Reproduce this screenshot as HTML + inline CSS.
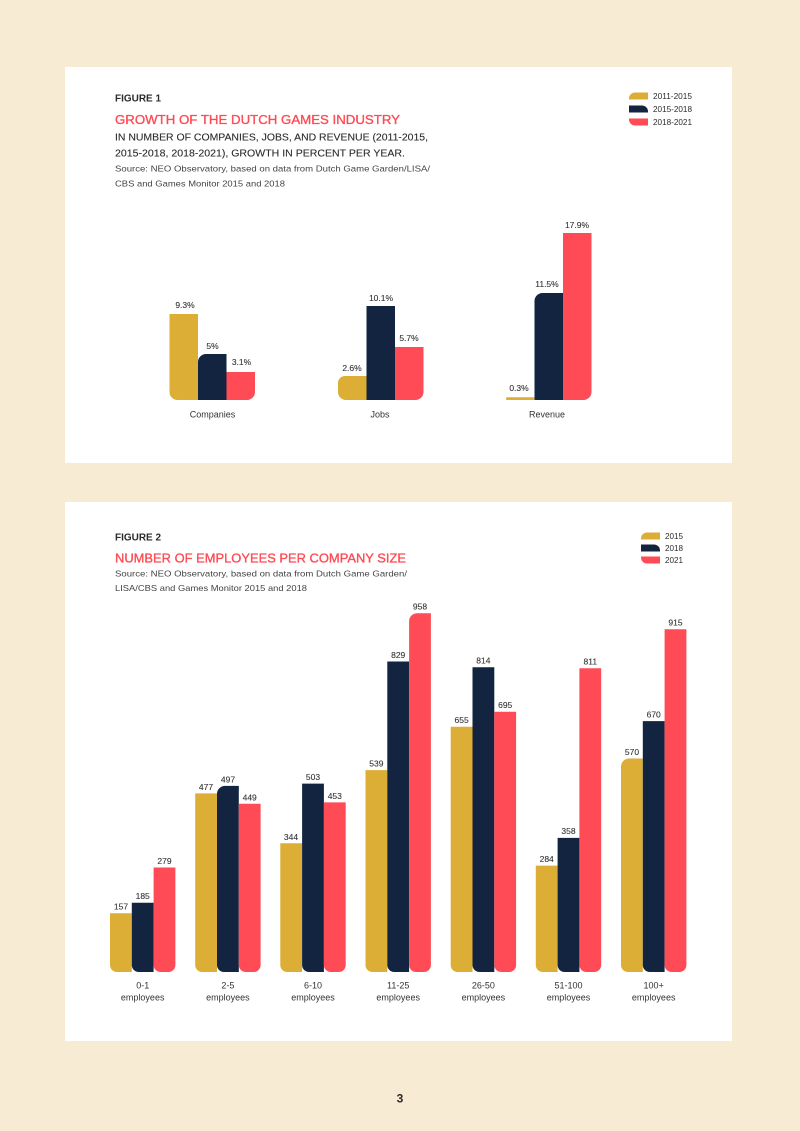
<!DOCTYPE html>
<html>
<head>
<meta charset="utf-8">
<style>
  html, body { margin: 0; padding: 0; background: #f7ebd4; }
  svg { display: block; }
  text { font-family: "Liberation Sans", sans-serif; }
</style>
</head>
<body>
<svg width="800" height="1131" viewBox="0 0 800 1131" xmlns="http://www.w3.org/2000/svg">
  <rect x="0" y="0" width="800" height="1131" fill="#f7ebd4"/>

  <!-- ============ PANEL 1 ============ -->
  <rect x="65" y="67" width="667" height="396" fill="#ffffff"/>

  <text x="115" y="101.5" font-size="10" font-weight="bold" fill="#2b2b2b" textLength="46" lengthAdjust="spacingAndGlyphs">FIGURE 1</text>
  <text x="115" y="124" font-size="13" fill="#ff4b55" stroke="#ff4b55" stroke-width="0.35" textLength="285" lengthAdjust="spacingAndGlyphs">GROWTH OF THE DUTCH GAMES INDUSTRY</text>
  <text x="115" y="140.5" font-size="10" fill="#2b2b2b" stroke="#2b2b2b" stroke-width="0.1" textLength="313" lengthAdjust="spacingAndGlyphs">IN NUMBER OF COMPANIES, JOBS, AND REVENUE (2011-2015,</text>
  <text x="115" y="156.5" font-size="10" fill="#2b2b2b" stroke="#2b2b2b" stroke-width="0.1" textLength="290" lengthAdjust="spacingAndGlyphs">2015-2018, 2018-2021), GROWTH IN PERCENT PER YEAR.</text>
  <text x="115" y="171.5" font-size="8.5" fill="#444" textLength="315" lengthAdjust="spacingAndGlyphs">Source: NEO Observatory, based on data from Dutch Game Garden/LISA/</text>
  <text x="115" y="186.5" font-size="8.5" fill="#444" textLength="170" lengthAdjust="spacingAndGlyphs">CBS and Games Monitor 2015 and 2018</text>

  <!-- legend 1 -->
  <path d="M635,92.5 H648 V99.5 H629 V98.5 A6,6 0 0 1 635,92.5 Z" fill="#dcae35"/>
  <path d="M629,105.5 H642 A6,6 0 0 1 648,111.5 V112.5 H629 Z" fill="#12243f"/>
  <path d="M629,118.5 H648 V125.5 H635 A6,6 0 0 1 629,119.5 Z" fill="#ff4b55"/>
  <text x="653" y="99" font-size="8" fill="#2b2b2b" textLength="39" lengthAdjust="spacingAndGlyphs">2011-2015</text>
  <text x="653" y="112" font-size="8" fill="#2b2b2b" textLength="39" lengthAdjust="spacingAndGlyphs">2015-2018</text>
  <text x="653" y="125" font-size="8" fill="#2b2b2b" textLength="39" lengthAdjust="spacingAndGlyphs">2018-2021</text>

  <!-- bars fig 1 -->
  <path d="M169.5,314 H198 V400 H177.5 A8,8 0 0 1 169.5,392 Z" fill="#dcae35"/>
  <path d="M206,354 H226.5 V400 H198 V362 A8,8 0 0 1 206,354 Z" fill="#12243f"/>
  <path d="M226.5,372 H255 V392 A8,8 0 0 1 247,400 H226.5 Z" fill="#ff4b55"/>

  <path d="M345,376 H366.5 V400 H346 A8,8 0 0 1 338,392 V383 A7,7 0 0 1 345,376 Z" fill="#dcae35"/>
  <rect x="366.5" y="306" width="28.5" height="94" fill="#12243f"/>
  <path d="M395,347 H423.5 V392 A8,8 0 0 1 415.5,400 H395 Z" fill="#ff4b55"/>

  <rect x="506" y="397.2" width="28.5" height="2.8" rx="1" fill="#dcae35"/>
  <path d="M542.5,293 H563 V400 H534.5 V301 A8,8 0 0 1 542.5,293 Z" fill="#12243f"/>
  <path d="M563,233 H591.5 V392 A8,8 0 0 1 583.5,400 H563 Z" fill="#ff4b55"/>

  <g font-size="8.5" fill="#333" stroke="#333" stroke-width="0.1" text-anchor="middle">
    <text x="185" y="308">9.3%</text>
    <text x="212.5" y="349">5%</text>
    <text x="241.5" y="365">3.1%</text>
    <text x="352" y="371">2.6%</text>
    <text x="381" y="301">10.1%</text>
    <text x="409" y="341">5.7%</text>
    <text x="519" y="391">0.3%</text>
    <text x="547" y="287">11.5%</text>
    <text x="577" y="228">17.9%</text>
  </g>
  <g font-size="9" fill="#333" text-anchor="middle">
    <text x="212.5" y="417.5">Companies</text>
    <text x="380" y="417.5">Jobs</text>
    <text x="547" y="417.5">Revenue</text>
  </g>

  <!-- ============ PANEL 2 ============ -->
  <rect x="65" y="502" width="667" height="539" fill="#ffffff"/>

  <text x="115" y="540.5" font-size="10" font-weight="bold" fill="#2b2b2b" textLength="46" lengthAdjust="spacingAndGlyphs">FIGURE 2</text>
  <text x="115" y="562.5" font-size="13" fill="#ff4b55" stroke="#ff4b55" stroke-width="0.35" textLength="291" lengthAdjust="spacingAndGlyphs">NUMBER OF EMPLOYEES PER COMPANY SIZE</text>
  <text x="115" y="576.5" font-size="8.5" fill="#444" textLength="292" lengthAdjust="spacingAndGlyphs">Source: NEO Observatory, based on data from Dutch Game Garden/</text>
  <text x="115" y="591" font-size="8.5" fill="#444" textLength="192" lengthAdjust="spacingAndGlyphs">LISA/CBS and Games Monitor 2015 and 2018</text>

  <!-- legend 2 -->
  <path d="M647,532.5 H660 V539.5 H641 V538.5 A6,6 0 0 1 647,532.5 Z" fill="#dcae35"/>
  <path d="M641,544.5 H654 A6,6 0 0 1 660,550.5 V551.5 H641 Z" fill="#12243f"/>
  <path d="M641,556.5 H660 V563.5 H647 A6,6 0 0 1 641,557.5 Z" fill="#ff4b55"/>
  <text x="665" y="539" font-size="8" fill="#2b2b2b" textLength="18" lengthAdjust="spacingAndGlyphs">2015</text>
  <text x="665" y="551" font-size="8" fill="#2b2b2b" textLength="18" lengthAdjust="spacingAndGlyphs">2018</text>
  <text x="665" y="563" font-size="8" fill="#2b2b2b" textLength="18" lengthAdjust="spacingAndGlyphs">2021</text>

  <!-- bars fig 2 (bottom 972) -->
  <path d="M110,913.2 H131.8 V972 H117 A7,7 0 0 1 110,965 Z" fill="#dcae35"/>
  <path d="M131.8,902.7 H153.6 V972 H138.8 A7,7 0 0 1 131.8,965 Z" fill="#12243f"/>
  <path d="M153.6,867.5 H175.4 V965 A7,7 0 0 1 168.4,972 H160.6 A7,7 0 0 1 153.6,965 Z" fill="#ff4b55"/>

  <path d="M195.2,793.4 H217 V972 H202.2 A7,7 0 0 1 195.2,965 Z" fill="#dcae35"/>
  <path d="M225,785.9 H238.8 V972 H224 A7,7 0 0 1 217,965 V793.9 A8,8 0 0 1 225,785.9 Z" fill="#12243f"/>
  <path d="M238.8,803.8 H260.6 V965 A7,7 0 0 1 253.6,972 H245.8 A7,7 0 0 1 238.8,965 Z" fill="#ff4b55"/>

  <path d="M280.3,843.2 H302.1 V972 H287.3 A7,7 0 0 1 280.3,965 Z" fill="#dcae35"/>
  <path d="M302.1,783.6 H323.9 V972 H309.1 A7,7 0 0 1 302.1,965 Z" fill="#12243f"/>
  <path d="M323.9,802.4 H345.7 V965 A7,7 0 0 1 338.7,972 H330.9 A7,7 0 0 1 323.9,965 Z" fill="#ff4b55"/>

  <path d="M365.5,770.1 H387.3 V972 H372.5 A7,7 0 0 1 365.5,965 Z" fill="#dcae35"/>
  <path d="M387.3,661.5 H409.1 V972 H394.3 A7,7 0 0 1 387.3,965 Z" fill="#12243f"/>
  <path d="M417.1,613.2 H430.9 V965 A7,7 0 0 1 423.9,972 H416.1 A7,7 0 0 1 409.1,965 V621.2 A8,8 0 0 1 417.1,613.2 Z" fill="#ff4b55"/>

  <path d="M450.7,726.7 H472.5 V972 H457.7 A7,7 0 0 1 450.7,965 Z" fill="#dcae35"/>
  <path d="M472.5,667.2 H494.3 V972 H479.5 A7,7 0 0 1 472.5,965 Z" fill="#12243f"/>
  <path d="M494.3,711.7 H516.1 V965 A7,7 0 0 1 509.1,972 H501.3 A7,7 0 0 1 494.3,965 Z" fill="#ff4b55"/>

  <path d="M535.8,865.6 H557.6 V972 H542.8 A7,7 0 0 1 535.8,965 Z" fill="#dcae35"/>
  <path d="M557.6,837.9 H579.4 V972 H564.6 A7,7 0 0 1 557.6,965 Z" fill="#12243f"/>
  <path d="M579.4,668.3 H601.2 V965 A7,7 0 0 1 594.2,972 H586.4 A7,7 0 0 1 579.4,965 Z" fill="#ff4b55"/>

  <path d="M629,758.5 H642.8 V972 H628 A7,7 0 0 1 621,965 V766.5 A8,8 0 0 1 629,758.5 Z" fill="#dcae35"/>
  <path d="M642.8,721.1 H664.6 V972 H649.8 A7,7 0 0 1 642.8,965 Z" fill="#12243f"/>
  <path d="M664.6,629.3 H686.4 V965 A7,7 0 0 1 679.4,972 H671.6 A7,7 0 0 1 664.6,965 Z" fill="#ff4b55"/>

  <!-- value labels fig 2 -->
  <g font-size="8.5" fill="#333" stroke="#333" stroke-width="0.1" text-anchor="middle">
    <text x="121" y="909.5">157</text>
    <text x="142.7" y="899">185</text>
    <text x="164.5" y="864">279</text>

    <text x="206" y="790">477</text>
    <text x="228" y="782.5">497</text>
    <text x="249.7" y="800.5">449</text>

    <text x="291" y="840">344</text>
    <text x="313" y="780">503</text>
    <text x="334.8" y="799">453</text>

    <text x="376.4" y="766.5">539</text>
    <text x="398.2" y="658">829</text>
    <text x="420" y="609.5">958</text>

    <text x="461.6" y="723">655</text>
    <text x="483.4" y="663.5">814</text>
    <text x="505.2" y="708">695</text>

    <text x="546.7" y="862">284</text>
    <text x="568.5" y="834">358</text>
    <text x="590.3" y="664.5">811</text>

    <text x="632" y="755">570</text>
    <text x="653.7" y="717.5">670</text>
    <text x="675.5" y="625.5">915</text>
  </g>

  <!-- category labels fig 2 -->
  <g font-size="9" fill="#333" text-anchor="middle">
    <text x="142.7" y="988.5">0-1</text>
    <text x="142.7" y="1000.5">employees</text>
    <text x="227.9" y="988.5">2-5</text>
    <text x="227.9" y="1000.5">employees</text>
    <text x="313" y="988.5">6-10</text>
    <text x="313" y="1000.5">employees</text>
    <text x="398.2" y="988.5">11-25</text>
    <text x="398.2" y="1000.5">employees</text>
    <text x="483.4" y="988.5">26-50</text>
    <text x="483.4" y="1000.5">employees</text>
    <text x="568.5" y="988.5">51-100</text>
    <text x="568.5" y="1000.5">employees</text>
    <text x="653.7" y="988.5">100+</text>
    <text x="653.7" y="1000.5">employees</text>
  </g>

  <!-- page number -->
  <text x="400" y="1102.5" font-size="12" font-weight="bold" fill="#2b2b2b" text-anchor="middle">3</text>
</svg>
</body>
</html>
